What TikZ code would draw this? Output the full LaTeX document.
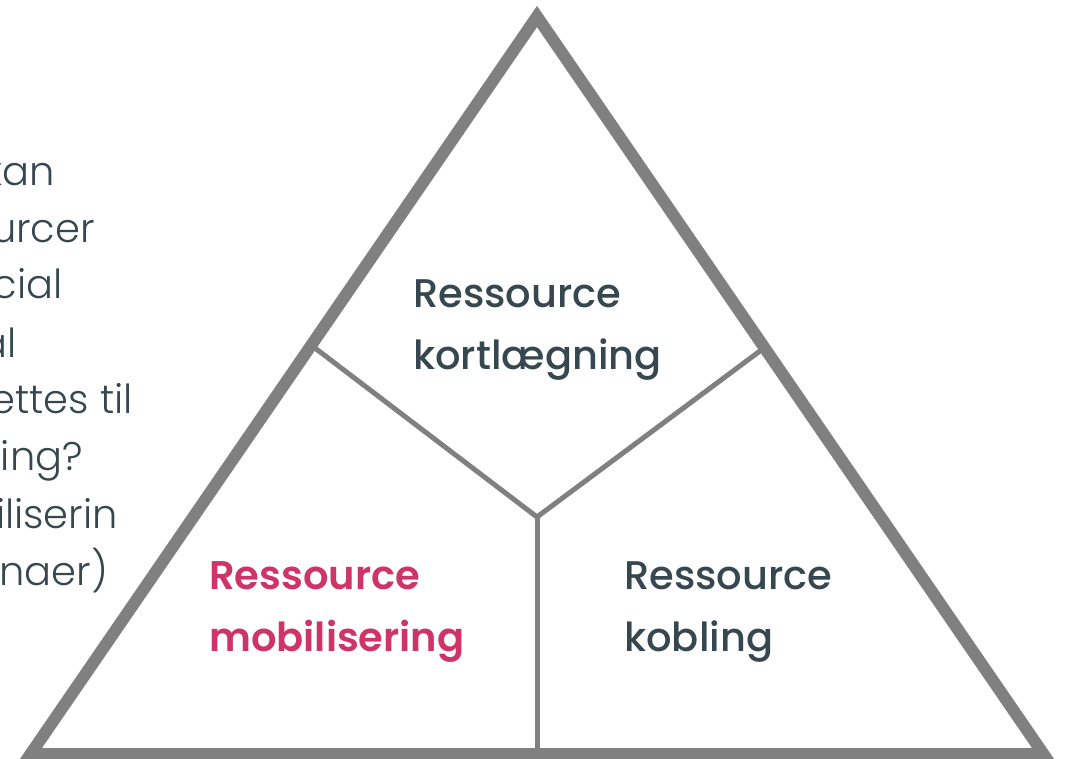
\documentclass[tikz,border=0pt]{standalone}
\usepackage{fontspec}
\setmainfont{Poppins}
\newfontfamily\labelfont{Poppins}[UprightFont=*-Medium,BoldFont=*-SemiBold]
\newfontfamily\bodyfont{Poppins}[UprightFont=*-Light]
\definecolor{rimgray}{HTML}{808080}
\definecolor{slate}{HTML}{37474F}
\definecolor{berry}{HTML}{CE3467}
\begin{document}
\begin{tikzpicture}[x=1pt,y=-1pt,
                        rim/.style={draw=rimgray,line width=12pt,line join=miter},
                        split/.style={draw=rimgray,line width=5pt},
                        area/.style={anchor=base west,align=left,inner sep=0pt,text=slate,
                                     font=\labelfont\fontsize{40}{62}\selectfont},
                        hot/.style={area,text=berry,font=\labelfont\bfseries\fontsize{40}{62}\selectfont},
                        cut/.style={anchor=base east,inner sep=0pt,text=slate,
                                    font=\bodyfont\fontsize{40}{57}\selectfont}]
                        \useasboundingbox (0,0) rectangle (1066,758);
                        \coordinate (apex) at (537,16.5);
                        \coordinate (bl) at (30.6,754);
                        \coordinate (br) at (1043.4,754);
                        \coordinate (lside) at (311,345);
                        \coordinate (rside) at (764,348);
                        \coordinate (hub) at (537,517);
                        \coordinate (foot) at (537,754);
                        \draw[rim] (apex) -- (bl) -- (br) -- cycle;
                        \draw[split] (lside) -- (hub) -- (rside);
                        \draw[split] (hub) -- (foot);
                        % base = sidste linjes grundlinje
                        \node[area] at (413,369) (kort) {Ressource\\kortlægning};
                        \node[hot] at (209,651) (mobil) {Ressource\\mobilisering};
                        \node[area] at (624,651) (kobl) {Ressource\\kobling};
                        % afskaaret tekst i venstre side
                        \node[cut] at (55,185) (l1) {kan};
                        \node[cut] at (95,242) (l2) {urcer};
                        \node[cut] at (63,298) (l3) {cial};
                        \node[cut] at (17,357) (l4) {al};
                        \node[cut] at (133,413) (l5) {ettes til};
                        \node[cut] at (83,470) (l6) {ing?};
                        \node[cut] at (118,528) (l7) {iliserin};
                        \node[cut] at (108,585) (l8) {naer)};
                \end{tikzpicture}
\end{document}
